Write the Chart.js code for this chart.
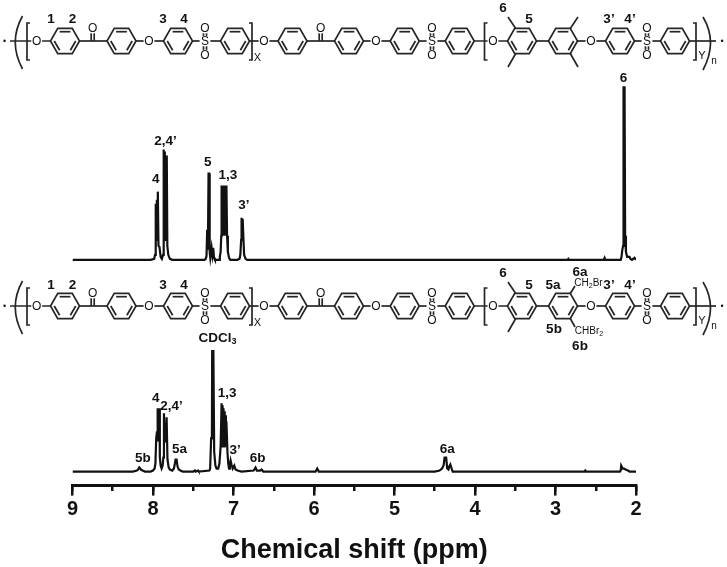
<!DOCTYPE html>
<html>
<head>
<meta charset="utf-8">
<title>1H NMR spectra</title>
<script src="https://cdn.jsdelivr.net/npm/chart.js@4"></script>
<style>
  html, body { margin: 0; padding: 0; background: #fff; }
  canvas { display: block; }
</style>
</head>
<body>
<canvas id="nmr" width="727" height="567"></canvas>
<script>
// values: shift in ppm, intensity above each trace's own baseline
const upperShift = [9.0, 8.2, 8.03, 7.985, 7.975, 7.968, 7.964, 7.958, 7.952, 7.946, 7.94, 7.932, 7.92, 7.905, 7.89,
  7.875, 7.869, 7.865, 7.859, 7.853, 7.847, 7.841, 7.835, 7.829, 7.822, 7.81, 7.79, 7.76, 7.36, 7.345, 7.335, 7.327, 7.318, 7.31, 7.302,
  7.296, 7.288, 7.272, 7.262, 7.252, 7.242, 7.23, 7.18, 7.17, 7.16, 7.152, 7.148, 7.142, 7.136, 7.13, 7.124, 7.118, 7.112, 7.106,
  7.1, 7.094, 7.088, 7.08, 7.07, 7.055, 7.04, 6.95, 6.925, 6.915, 6.905, 6.9, 6.893, 6.886, 6.876, 6.868, 6.85, 6.83,
  2.85, 2.84, 2.83, 2.4, 2.39, 2.38, 2.19, 2.18, 2.17, 2.16, 2.155, 2.142, 2.135, 2.125, 2.11, 2.08, 2.07, 2.05, 2.02, 2.0];
const upperIntensity = [0, 0, 0, 1, 5, 14, 56, 20, 60, 20, 68, 14, 13, 3, 1,
  5, 16, 110, 20, 108, 20, 104, 20, 104, 14, 5, 1, 0, 0, 1, 4, 30, 10, 86, 86,
  8, 2, 12, 5, 12, 2, 0, 0, 3, 8, 24, 74, 25, 74, 25, 74, 25, 74, 25,
  74, 25, 74, 24, 8, 2, 0, 0, 1, 5, 20, 42, 30, 41, 20, 5, 1, 0,
  0, 1, 0, 0, 2, 0, 0, 3, 10, 14, 172, 172, 24, 8, 3, 3, 1, 0, 2, 0];

const lowerShift = [9.0, 8.25, 8.2, 8.185, 8.171, 8.15, 8.13, 8.1, 8.03, 8.0, 7.98, 7.97, 7.96, 7.95, 7.945, 7.939, 7.933, 7.927, 7.921,
  7.915, 7.905, 7.893, 7.88, 7.872, 7.864, 7.856, 7.85, 7.84, 7.831, 7.82, 7.805, 7.79, 7.76, 7.74, 7.728, 7.72, 7.707,
  7.695, 7.68, 7.66, 7.63, 7.5, 7.48, 7.47, 7.44, 7.43, 7.3, 7.29, 7.278, 7.268, 7.265, 7.25, 7.24, 7.225, 7.21, 7.19,
  7.175, 7.16, 7.148, 7.142, 7.136, 7.13, 7.124, 7.118, 7.112, 7.106, 7.1, 7.094, 7.088, 7.075, 7.065, 7.055, 7.045, 7.036, 7.025, 7.01, 6.99, 6.975, 6.95, 6.9,
  6.75, 6.726, 6.71, 6.67, 6.652, 6.63, 5.98, 5.96, 5.94, 4.5, 4.44, 4.41, 4.39, 4.378, 4.358, 4.345, 4.33, 4.32,
  4.306, 4.29, 4.277, 2.64, 2.63, 2.62, 2.2, 2.19, 2.184, 2.165, 2.15, 2.13, 2.1, 2.08, 2.0];
const lowerIntensity = [0, 0, 1, 2, 4, 2, 1, 0, 0, 1, 3, 8, 33, 40, 63, 30, 63, 30, 63,
  14, 6, 3, 6, 14, 58, 30, 30, 32, 54, 12, 4, 2, 1, 3, 8, 12, 12,
  5, 2, 1, 0, 0, 1, 0, 1, 0, 1, 3, 33, 40, 120, 120, 20, 6, 3, 3,
  8, 25, 68, 25, 66, 25, 63, 25, 60, 25, 56, 25, 50, 19, 8, 3, 7, 11, 7, 3, 6, 2, 1, 0,
  1, 4, 1, 1, 2, 0, 0, 3, 0, 0, 1, 3, 6, 14, 14, 3, 2, 5,
  7, 3, 0, 0, 1, 0, 0, 1, 6, 3, 3, 2, 1, 0, 0];

const upperBaseline = 225;
const lowerBaseline = 14;

const peakLabels = ['4', '2,4’', '5', '1,3', '3’', '6', '5b', '4', '2,4’', '5a', '1,3', '3’', '6b', '6a'];
const peakLabelShift = [7.965, 7.845, 7.32, 7.07, 6.87, 2.155, 8.125, 7.965, 7.77, 7.67, 7.08, 6.98, 6.70, 4.345];
const peakLabelLevel = [305, 343, 322, 309, 279, 406, 27, 87, 79, 36, 92, 35, 27, 36];

const tickMin = 2;
const tickMax = 9;

function toPoints(shift, intensity, baseline) {
  return shift.map((s, i) => ({ x: s, y: intensity[i] + baseline }));
}

// ---- drawing of the two repeat-unit structures above the traces ----
const ringCentres = [65, 121.5, 178, 235, 292.5, 349, 404.7, 459.7, 522, 563, 620, 675];
const ringR = 14.5;
const inkColour = '#262626';

function line(ctx, x1, y1, x2, y2) {
  ctx.beginPath();
  ctx.moveTo(x1, y1);
  ctx.lineTo(x2, y2);
  ctx.stroke();
}

function label(ctx, text, x, y, font) {
  ctx.font = font;
  ctx.textAlign = 'center';
  ctx.textBaseline = 'middle';
  ctx.fillStyle = '#111';
  ctx.fillText(text, x, y);
}

// text with a lowered digit, e.g. CH2Br
function subLabel(ctx, parts, x, y, size, weight) {
  const big = weight + ' ' + size + 'px "Liberation Sans"';
  const small = weight + ' ' + Math.round(size * 0.7) + 'px "Liberation Sans"';
  ctx.textBaseline = 'middle';
  ctx.textAlign = 'left';
  ctx.fillStyle = '#111';
  let total = 0;
  parts.forEach(p => { ctx.font = p.sub ? small : big; total += ctx.measureText(p.t).width; });
  let cx = x - total / 2;
  parts.forEach(p => {
    ctx.font = p.sub ? small : big;
    ctx.fillText(p.t, cx, p.sub ? y + 3 : y);
    cx += ctx.measureText(p.t).width;
  });
}

function ring(ctx, cx, cy) {
  const pts = [];
  for (let i = 0; i < 6; i++) {
    const a = i * Math.PI / 3;
    pts.push([cx + ringR * Math.cos(a), cy + ringR * Math.sin(a)]);
  }
  ctx.beginPath();
  pts.forEach((p, i) => i ? ctx.lineTo(p[0], p[1]) : ctx.moveTo(p[0], p[1]));
  ctx.closePath();
  ctx.stroke();
  // inner double bonds: top, lower left, lower right
  [[4, 5], [2, 3], [0, 1]].forEach(e => {
    const a = pts[e[0]], b = pts[e[1]];
    const k = 0.74;
    const ax = cx + (a[0] - cx) * k, ay = cy + (a[1] - cy) * k;
    const bx = cx + (b[0] - cx) * k, by = cy + (b[1] - cy) * k;
    line(ctx, ax, ay, bx, by);
  });
}

function atom(ctx, text, x, y) {
  ctx.save();
  ctx.fillStyle = '#fff';
  ctx.beginPath();
  ctx.arc(x, y, 5.5, 0, Math.PI * 2);
  ctx.fill();
  ctx.restore();
  label(ctx, text, x, y + 0.5, '12px "Liberation Sans"');
}

function carbonyl(ctx, x, y) {
  line(ctx, x - 1.5, y, x - 1.5, y - 10);
  line(ctx, x + 1.5, y, x + 1.5, y - 10);
  atom(ctx, 'O', x, y - 13);
}

function sulfone(ctx, x, y) {
  line(ctx, x - 1.5, y - 4, x - 1.5, y - 9);
  line(ctx, x + 1.5, y - 4, x + 1.5, y - 9);
  line(ctx, x - 1.5, y + 4, x - 1.5, y + 9);
  line(ctx, x + 1.5, y + 4, x + 1.5, y + 9);
  atom(ctx, 'S', x, y);
  atom(ctx, 'O', x, y - 13);
  atom(ctx, 'O', x, y + 14);
}

function bracket(ctx, x, y, dir) {
  ctx.beginPath();
  ctx.moveTo(x + dir * 3, y - 18);
  ctx.lineTo(x, y - 18);
  ctx.lineTo(x, y + 19);
  ctx.lineTo(x + dir * 3, y + 19);
  ctx.stroke();
}

function backbone(ctx, y) {
  ctx.strokeStyle = inkColour;
  ctx.lineWidth = 1.7;
  ringCentres.forEach(c => ring(ctx, c, y));
  line(ctx, 10, y, ringCentres[0] - ringR, y);
  for (let i = 0; i < ringCentres.length - 1; i++) {
    line(ctx, ringCentres[i] + ringR, y, ringCentres[i + 1] - ringR, y);
  }
  line(ctx, ringCentres[11] + ringR, y, 716, y);

  bracket(ctx, 27, y, 1);
  bracket(ctx, 252, y, -1);
  bracket(ctx, 484.5, y, 1);
  bracket(ctx, 696, y, -1);

  [36.7, 149, 264, 376, 493, 591].forEach(x => atom(ctx, 'O', x, y));
  carbonyl(ctx, 92.7, y);
  carbonyl(ctx, 320.7, y);
  [205, 432, 647].forEach(x => sulfone(ctx, x, y));

  // outer parentheses
  ctx.beginPath();
  ctx.moveTo(22.5, y - 25);
  ctx.quadraticCurveTo(8, y + 1, 22.5, y + 28);
  ctx.stroke();
  ctx.beginPath();
  ctx.moveTo(703, y - 24);
  ctx.quadraticCurveTo(718, y + 1, 703, y + 29);
  ctx.stroke();

  label(ctx, '•', 4.5, y + 1, '9px "Liberation Sans"');
  label(ctx, '•', 722, y + 1, '9px "Liberation Sans"');
  label(ctx, 'X', 257.5, y + 17, '11px "Liberation Sans"');
  label(ctx, 'Y', 702, y + 15, '11px "Liberation Sans"');
  label(ctx, 'n', 714, y + 20, '10px "Liberation Sans"');
}

const boldLabel = 'bold 13.5px "Liberation Sans"';

const structurePlugin = {
  id: 'structures',
  afterDraw(chart) {
    const ctx = chart.ctx;
    ctx.save();

    // upper structure
    const y1 = 41;
    backbone(ctx, y1);
    line(ctx, 515.7, y1 - 12.5, 508, y1 - 24);
    line(ctx, 515.7, y1 + 12.5, 508, y1 + 26);
    line(ctx, 570.3, y1 - 12.5, 578, y1 - 24);
    line(ctx, 570.3, y1 + 12.5, 578, y1 + 26);
    [['1', 51, 19], ['2', 72.5, 19], ['3', 163, 19], ['4', 184, 19], ['6', 503, 8], ['5', 529, 19],
      ['3’', 609, 19], ['4’', 630, 19]].forEach(t => label(ctx, t[0], t[1], t[2], boldLabel));

    // lower structure, brominated
    const y2 = 306;
    backbone(ctx, y2);
    ctx.strokeStyle = inkColour;
    line(ctx, 515.7, y2 - 12.5, 508, y2 - 24);
    line(ctx, 515.7, y2 + 12.5, 508, y2 + 26);
    line(ctx, 570.3, y2 - 12.5, 575, y2 - 20);
    line(ctx, 570.3, y2 + 12.5, 575, y2 + 21);
    [['1', 51, 285], ['2', 72.5, 285], ['3', 163, 285], ['4', 184, 285], ['6', 503, 273], ['5', 529, 285],
      ['5a', 553, 285], ['6a', 580, 272], ['3’', 609, 285], ['4’', 630, 285], ['5b', 554, 329], ['6b', 580, 346]]
      .forEach(t => label(ctx, t[0], t[1], t[2], boldLabel));
    subLabel(ctx, [{ t: 'CH' }, { t: '2', sub: true }, { t: 'Br' }], 588.5, 283, 10, 'normal');
    subLabel(ctx, [{ t: 'CHBr' }, { t: '2', sub: true }], 589, 331, 10, 'normal');

    // solvent label sits on its peak
    const xs = chart.scales.x, ys = chart.scales.y;
    subLabel(ctx, [{ t: 'CDCl' }, { t: '3', sub: true }], xs.getPixelForValue(7.2), ys.getPixelForValue(147), 13.5, 'bold');

    // peak assignments
    peakLabels.forEach((t, i) => {
      label(ctx, t, xs.getPixelForValue(peakLabelShift[i]), ys.getPixelForValue(peakLabelLevel[i]), boldLabel);
    });
    ctx.restore();
  }
};

new Chart(document.getElementById('nmr'), {
  type: 'line',
  data: {
    datasets: [
      { label: 'Upper trace', data: toPoints(upperShift, upperIntensity, upperBaseline) },
      { label: 'Lower trace', data: toPoints(lowerShift, lowerIntensity, lowerBaseline) }
    ]
  },
  options: {
    responsive: false,
    animation: false,
    devicePixelRatio: 1,
    layout: { padding: { left: 72.5, right: 91, top: 0, bottom: 0 } },
    elements: {
      point: { radius: 0 },
      line: { borderColor: '#111', borderWidth: 2.2, tension: 0 }
    },
    plugins: { legend: { display: false }, tooltip: { enabled: false } },
    scales: {
      x: {
        type: 'linear',
        reverse: true,
        min: tickMin,
        max: tickMax,
        border: { color: '#111', width: 3 },
        grid: { drawOnChartArea: false, color: '#111', lineWidth: 2.5, tickLength: 10 },
        ticks: {
          stepSize: 1,
          color: '#111',
          maxRotation: 0,
          padding: 2,
          font: { family: '"Liberation Sans"', size: 20, weight: 'bold' }
        },
        title: {
          display: true,
          text: 'Chemical shift (ppm)',
          color: '#111',
          padding: { top: 11, bottom: 0 },
          font: { family: '"Liberation Sans"', size: 27, weight: 'bold' }
        }
      },
      // half-unit ticks, shorter than the labelled ones
      minor: {
        type: 'linear',
        axis: 'x',
        position: { y: 0 },
        reverse: true,
        min: tickMin,
        max: tickMax,
        border: { display: false },
        grid: { drawOnChartArea: false, color: '#111', lineWidth: 2.5, tickLength: 5 },
        ticks: { stepSize: 0.5, padding: 0, callback: () => '' }
      },
      y: { display: false, min: 0, max: 484 }
    }
  },
  plugins: [structurePlugin]
});
</script>
</body>
</html>
